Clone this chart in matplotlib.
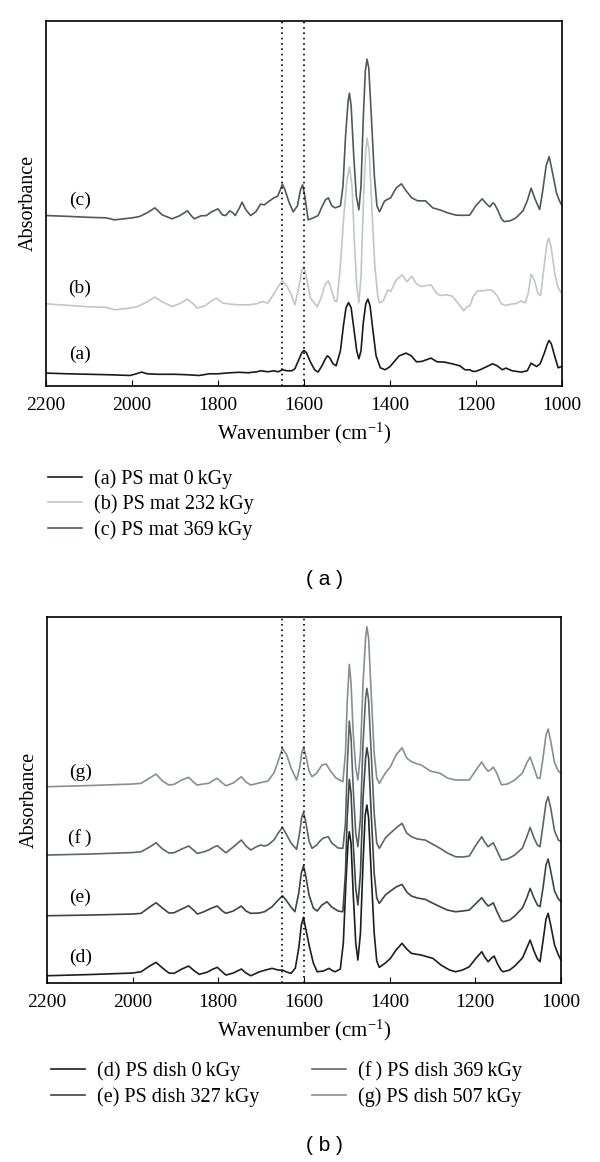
import matplotlib.pyplot as plt

plt.rcParams['font.family'] = ['Liberation Serif', 'DejaVu Serif']
plt.rcParams['mathtext.fontset'] = 'custom'
plt.rcParams['mathtext.rm'] = 'Liberation Serif'
plt.rcParams['mathtext.it'] = 'Liberation Serif:italic'

#%% data (wavenumber, cm-1 / absorbance, arbitrary offset units)

wn_a = [2200, 2150, 2100, 2050, 2005, 1990, 1978, 1965, 1940, 1900, 1870, 1844, 1820, 1800, 1773,
        1750, 1730, 1710, 1700, 1684, 1670, 1660, 1650, 1639, 1628, 1621, 1612, 1605, 1600, 1594,
        1585, 1575, 1567, 1558, 1550, 1545, 1540, 1532, 1525, 1515, 1508, 1502, 1496, 1490, 1483,
        1477, 1472, 1467, 1462, 1456, 1451, 1446, 1440, 1432, 1422, 1411, 1400, 1390, 1378, 1362,
        1350, 1338, 1326, 1315, 1304, 1290, 1273, 1255, 1237, 1225, 1214, 1207, 1201, 1190, 1175,
        1161, 1150, 1138, 1130, 1115, 1094, 1080, 1071, 1065, 1058, 1050, 1040, 1033, 1029, 1024,
        1015, 1008, 1000]
abs_a = [12.7, 12, 11.5, 11, 10.3, 12, 13.7, 12, 11.5, 11.5, 11, 10.3, 12, 12, 13,
         13.5, 13, 14, 15, 14, 15, 14, 16, 15, 15, 17, 26, 33, 35.3, 33,
         24, 16, 13.7, 20, 27, 30, 28, 22, 20, 35, 60, 78, 83.3, 78, 55,
         35, 27, 35, 62, 82, 86.7, 80, 58, 30, 18, 16, 19, 24, 30, 32.7,
         30, 24, 24.3, 26, 27.7, 24, 23.7, 22, 20, 16, 16, 14.5, 14.3, 16, 19,
         22, 20, 16, 17.7, 15, 13.7, 15, 22.7, 21, 19.3, 22, 33, 42, 45.3, 42,
         28, 18, 19.3]

wn_b = [2200, 2150, 2100, 2060, 2041, 2020, 2000, 1987, 1965, 1947, 1930, 1907, 1890, 1871, 1855,
        1849, 1830, 1815, 1804, 1790, 1773, 1750, 1728, 1710, 1697, 1684, 1670, 1660, 1650, 1640,
        1630, 1621, 1612, 1605, 1600, 1595, 1585, 1569, 1560, 1550, 1543, 1535, 1528, 1523, 1515,
        1508, 1500, 1494, 1488, 1482, 1477, 1472, 1467, 1461, 1456, 1453, 1448, 1442, 1435, 1428,
        1424, 1415, 1405, 1398, 1385, 1371, 1360, 1349, 1338, 1326, 1304, 1290, 1282, 1268, 1255,
        1240, 1228, 1221, 1214, 1205, 1195, 1183, 1170, 1161, 1150, 1140, 1130, 1115, 1107, 1095,
        1085, 1078, 1071, 1063, 1055, 1049, 1042, 1034, 1030, 1025, 1015, 1008, 1000]
abs_b = [82, 80.5, 79, 78.5, 76, 77, 78, 79.3, 84, 88.7, 84, 79.3, 82, 86.7, 81,
         77.7, 80, 85, 87.7, 83, 81.7, 81, 81, 82, 84.3, 82.7, 92, 99, 105, 100,
         92, 81, 98, 115, 119, 110, 88, 79, 88, 102, 105, 95, 85, 84.3, 120,
         165, 205, 219, 200, 140, 100, 83, 110, 190, 235, 248, 235, 180, 120, 90,
         83, 85, 96, 94.3, 106, 111, 104, 109.7, 102, 99.3, 101, 92, 90.3, 91, 89.7,
         82, 75, 79, 79.7, 90, 95, 95, 96, 95.3, 90, 82, 80.3, 82, 82, 85,
         83, 92, 111.7, 105, 92, 90.3, 115, 143, 147.7, 140, 110, 98, 92.7]

wn_c = [2200, 2150, 2100, 2060, 2041, 2020, 2000, 1983, 1965, 1947, 1930, 1907, 1890, 1871, 1862,
        1855, 1840, 1827, 1815, 1800, 1790, 1782, 1773, 1765, 1760, 1750, 1744, 1735, 1724, 1712,
        1701, 1692, 1684, 1670, 1661, 1655, 1650, 1644, 1635, 1625, 1615, 1608, 1603, 1598, 1590,
        1578, 1567, 1558, 1550, 1543, 1535, 1527, 1515, 1509, 1503, 1497, 1494, 1490, 1484, 1478,
        1472, 1467, 1462, 1457, 1453, 1449, 1443, 1436, 1430, 1424, 1412, 1398, 1385, 1373, 1362,
        1349, 1335, 1317, 1300, 1282, 1265, 1246, 1230, 1214, 1200, 1185, 1175, 1167, 1160, 1156,
        1148, 1140, 1134, 1120, 1107, 1090, 1080, 1071, 1062, 1055, 1051, 1044, 1036, 1029, 1022,
        1012, 1005, 1000]
abs_c = [170.3, 169.5, 168.5, 168, 166, 167, 168, 169.3, 173, 178, 171, 167, 170, 175, 170,
         167, 170, 170.3, 174, 177, 171, 170.3, 175, 173, 170.3, 178, 183.7, 176, 170.3, 174,
         181.7, 181, 183.7, 188, 189.7, 196, 201.7, 196, 184, 174, 180, 196, 201, 190, 166,
         168, 170.3, 179, 186, 188, 180, 178, 180, 200, 250, 285, 292.7, 280, 230, 190,
         176, 200, 265, 315, 326.7, 318, 270, 210, 180, 174, 185, 188, 198, 202, 195,
         188, 185, 185, 178, 175.7, 173, 170.7, 170.5, 170.7, 180, 187, 182, 179, 183, 181.7,
         175, 167, 164.3, 165, 167.7, 175, 185, 197.7, 187, 180, 176.3, 195, 220, 229.3, 215,
         193, 185, 181]

wn_d = [2200, 2100, 2000, 1980, 1960, 1945, 1930, 1915, 1903, 1885, 1869, 1855, 1844, 1825, 1812,
        1802, 1790, 1782, 1765, 1746, 1735, 1724, 1705, 1690, 1674, 1660, 1650, 1640, 1630, 1620,
        1612, 1606, 1601, 1596, 1587, 1578, 1569, 1555, 1541, 1534, 1527, 1515, 1508, 1502, 1497,
        1494, 1490, 1485, 1479, 1474, 1468, 1462, 1457, 1453, 1449, 1443, 1436, 1430, 1424, 1410,
        1398, 1385, 1371, 1360, 1349, 1340, 1326, 1310, 1299, 1280, 1260, 1246, 1230, 1214, 1200,
        1185, 1178, 1170, 1162, 1156, 1148, 1140, 1135, 1120, 1108, 1090, 1080, 1072, 1063, 1055,
        1049, 1042, 1035, 1030, 1024, 1015, 1006, 1000]
abs_d = [7.3, 8.5, 10, 11.3, 17, 20.7, 15, 10, 9.7, 14, 17, 12, 8.7, 11, 14,
         15.7, 11, 8, 10, 14, 10, 7.3, 11, 13, 14.7, 13, 13, 11, 9.7, 15,
         35, 58, 65.7, 55, 36.3, 20, 11.3, 12, 14.7, 12.5, 11.3, 14, 40, 100, 140,
         151.3, 140, 90, 40, 23, 50, 120, 168, 178, 165, 110, 50, 22, 15.7, 20,
         24.7, 33, 39.7, 34, 29.7, 29, 28, 26, 24.7, 18, 13, 11.3, 13, 16.3, 24,
         31.3, 26, 21.3, 25, 27, 19, 13, 11.3, 13, 17, 25, 35, 43, 32, 24,
         21.3, 42, 64, 69.7, 58, 38, 28, 23]

wn_e = [2200, 2100, 2000, 1980, 1960, 1945, 1930, 1915, 1903, 1885, 1869, 1855, 1849, 1835, 1815,
        1802, 1790, 1782, 1765, 1746, 1735, 1724, 1705, 1692, 1675, 1662, 1650, 1640, 1630, 1621,
        1612, 1606, 1601, 1596, 1588, 1578, 1569, 1558, 1546, 1535, 1520, 1509, 1503, 1499, 1494,
        1490, 1485, 1479, 1474, 1468, 1462, 1456, 1453, 1449, 1443, 1436, 1430, 1424, 1410, 1398,
        1385, 1371, 1360, 1349, 1335, 1317, 1300, 1282, 1265, 1246, 1230, 1214, 1200, 1185, 1178,
        1170, 1162, 1158, 1150, 1140, 1135, 1120, 1108, 1090, 1080, 1072, 1063, 1055, 1049, 1042,
        1035, 1030, 1024, 1015, 1006, 1000]
abs_e = [67.3, 68, 69, 69.7, 76, 80.3, 75, 70, 70.3, 74, 77.3, 72, 69, 71, 75,
         77, 72, 69.7, 72, 77, 72, 69.7, 70, 71.3, 76, 82, 87.3, 82, 76, 71.3,
         90, 110, 117.3, 108, 88, 75, 72, 78, 81.3, 76, 72, 71.3, 110, 165, 203.7,
         190, 140, 95, 78, 110, 185, 225, 235.3, 225, 170, 110, 85, 79.7, 88, 92,
         96, 98.7, 91, 87, 85, 83.7, 80, 76.3, 73, 71.3, 72, 73, 79, 85.3, 81,
         77, 79, 80.3, 72, 63, 61.3, 63, 67, 75, 85, 94.7, 85, 78, 76.3, 95,
         118, 124, 112, 92, 84, 81.3]

wn_f = [2200, 2100, 2000, 1980, 1960, 1945, 1930, 1915, 1903, 1885, 1869, 1855, 1849, 1835, 1822,
        1810, 1802, 1790, 1782, 1765, 1746, 1735, 1724, 1712, 1701, 1692, 1684, 1670, 1660, 1650,
        1640, 1630, 1617, 1610, 1605, 1601, 1596, 1588, 1581, 1570, 1564, 1555, 1543, 1535, 1520,
        1509, 1503, 1499, 1494, 1490, 1485, 1479, 1474, 1468, 1462, 1456, 1453, 1449, 1443, 1436,
        1430, 1424, 1410, 1398, 1385, 1371, 1360, 1349, 1335, 1317, 1300, 1282, 1265, 1246, 1230,
        1214, 1200, 1185, 1178, 1170, 1162, 1158, 1150, 1139, 1125, 1108, 1090, 1080, 1072, 1063,
        1055, 1049, 1042, 1035, 1030, 1024, 1015, 1006, 1000]
abs_f = [128, 129, 130.5, 131.3, 136, 140.3, 134, 130, 130.3, 134, 137, 132, 129.7, 131, 133,
         136, 137.3, 133, 130.3, 136, 143, 137, 133, 136, 138, 137, 138, 143, 150, 155.7,
         148, 140, 133.7, 150, 166, 170.3, 162, 142, 134.7, 138, 141.3, 145, 146.3, 140, 135,
         134.7, 160, 215, 262, 245, 195, 150, 136.3, 165, 240, 285, 294.7, 283, 230, 170,
         140, 134.7, 145, 150, 155, 159.7, 150, 146.3, 144, 143, 139, 134.7, 130, 126.3, 126,
         127, 137, 146.3, 141, 136.3, 139, 140.3, 133, 123, 124, 128, 135, 146, 155.7, 145,
         138, 136.3, 158, 180, 186.3, 175, 152, 143, 141.3]

wn_g = [2200, 2100, 2000, 1980, 1960, 1945, 1930, 1915, 1903, 1885, 1869, 1855, 1849, 1835, 1822,
        1810, 1802, 1790, 1782, 1765, 1746, 1735, 1724, 1705, 1684, 1670, 1660, 1650, 1640, 1630,
        1617, 1610, 1605, 1601, 1596, 1588, 1581, 1570, 1558, 1548, 1538, 1525, 1509, 1503, 1499,
        1494, 1490, 1485, 1479, 1474, 1468, 1462, 1456, 1453, 1449, 1443, 1436, 1430, 1424, 1410,
        1398, 1385, 1371, 1360, 1349, 1335, 1326, 1305, 1282, 1265, 1246, 1230, 1214, 1200, 1185,
        1178, 1170, 1162, 1158, 1150, 1139, 1125, 1108, 1090, 1080, 1072, 1063, 1055, 1049, 1042,
        1035, 1030, 1024, 1015, 1006, 1000]
abs_g = [196.3, 197.5, 199, 199.7, 205, 209, 202, 198, 198.7, 203, 205.7, 200, 198, 199, 199.7,
         203, 204.7, 200, 197.3, 200, 206.3, 201, 198, 200, 202, 210, 222, 234.7, 228, 215,
         203, 215, 230, 235.7, 228, 212, 206.3, 210, 218, 219, 212, 205, 201.3, 230, 280,
         318.7, 300, 250, 215, 203, 230, 300, 345, 356.3, 345, 290, 230, 205, 199.7, 210,
         216.3, 228, 235.3, 225, 221.3, 219, 218, 212, 209.7, 205, 203, 203, 203, 212, 221,
         216, 211.7, 214, 216, 210, 198.3, 199, 203, 210, 220, 226, 215, 205, 204.7, 225,
         248, 254, 242, 220, 212, 209.7]

labels_top = ['(a) PS mat 0\u2009kGy', '(b) PS mat 232\u2009kGy', '(c) PS mat 369\u2009kGy']
labels_bot = ['(d) PS dish 0\u2009kGy', '(e) PS dish 327\u2009kGy',
              '(f\u2009) PS dish 369\u2009kGy', '(g) PS dish 507\u2009kGy']
tags_top = ['(a)', '(b)', '(c)']
tags_top_y = [31, 97.7, 186]
tags_bot = ['(d)', '(e)', '(f\u2009)', '(g)']
tags_bot_y = [26, 86, 145, 211]
marker_lines = [1650, 1600]
xticks = [2200, 2000, 1800, 1600, 1400, 1200, 1000]

#%%

fig = plt.figure(figsize=(6, 11.62), dpi=100)


def setup(ax, ymax):
    ax.set_xlim(2200, 1000)
    ax.set_ylim(0, ymax)
    ax.set_xticks(xticks)
    ax.set_yticks([])
    ax.tick_params(axis='x', direction='in', length=4, labelsize=14, pad=8)
    for s in ax.spines.values():
        s.set_linewidth(1.2)
    for w in marker_lines:
        ax.axvline(w, color='black', ls=(0, (1, 2.2)), lw=1.2)
    ax.set_xlabel('Wavenumber (cm$^{-1}$)', fontsize=15, labelpad=5)
    ax.set_ylabel('Absorbance', fontsize=14.5, labelpad=6)


ax1 = fig.add_axes([0.077, 0.668, 0.859, 0.314])
l_a, = ax1.plot(wn_a, abs_a, color='#1a1a1a', lw=1.2)
l_b, = ax1.plot(wn_b, abs_b, color='#c3c6c6', lw=1.2)
l_c, = ax1.plot(wn_c, abs_c, color='#525858', lw=1.2)
setup(ax1, 365)
for t, y in zip(tags_top, tags_top_y):
    ax1.text(2122, y, t, fontsize=14, ha='center', va='center')
ax1.legend([l_a, l_b, l_c], labels_top, loc='upper left', bbox_to_anchor=(0.08, 0.5964),
           bbox_transform=fig.transFigure, frameon=False, fontsize=14.5, handlelength=1.7,
           handletextpad=0.6, labelspacing=0.3, borderpad=0, borderaxespad=0)
fig.text(0.54, 0.501, '( a )', family='Liberation Sans', fontsize=15, ha='center', va='center')

ax2 = fig.add_axes([0.078, 0.154, 0.857, 0.315])
l_d, = ax2.plot(wn_d, abs_d, color='#1e1e1e', lw=1.2)
l_e, = ax2.plot(wn_e, abs_e, color='#3f4444', lw=1.2)
l_f, = ax2.plot(wn_f, abs_f, color='#5e6565', lw=1.2)
l_g, = ax2.plot(wn_g, abs_g, color='#878f8f', lw=1.2)
setup(ax2, 366)
for t, y in zip(tags_bot, tags_bot_y):
    ax2.text(2122, y, t, fontsize=14, ha='center', va='center')
ax2.legend([l_d, l_e, l_f, l_g], labels_bot, loc='upper left', bbox_to_anchor=(0.085, 0.0869),
           bbox_transform=fig.transFigure, frameon=False, fontsize=14.5, ncol=2, handlelength=1.7,
           handletextpad=0.6, labelspacing=0.3, columnspacing=2.6, borderpad=0, borderaxespad=0)
fig.text(0.54, 0.014, '( b )', family='Liberation Sans', fontsize=15, ha='center', va='center')

plt.savefig('out.png', dpi=100)
